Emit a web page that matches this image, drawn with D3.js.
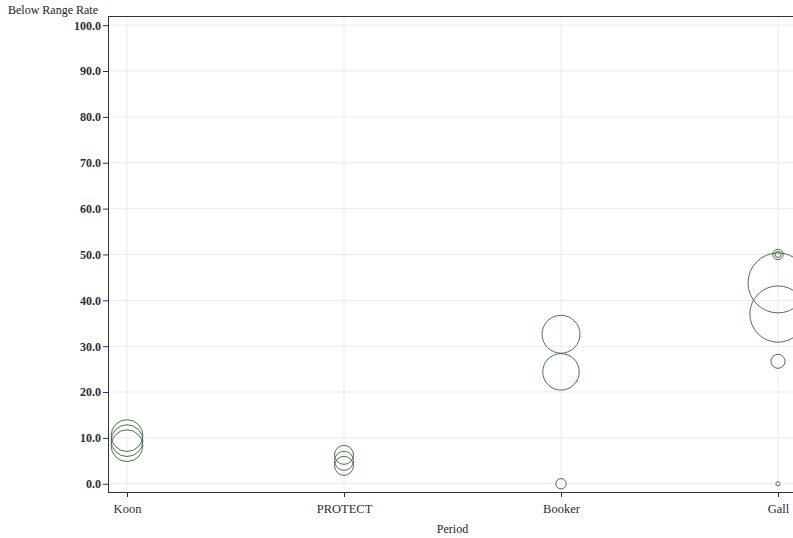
<!DOCTYPE html>
<html>
<head>
<meta charset="utf-8">
<script src="https://cdn.jsdelivr.net/npm/d3@7"></script>
<style>
  html, body { margin: 0; padding: 0; background: #fff; overflow: hidden; }
  svg { display: block; }
  text { font-family: "Liberation Serif", "Times New Roman", serif; }
</style>
</head>
<body>
<svg id="chart" width="793" height="538"></svg>
<script>
// ---- data ----
const categories = ["Koon", "PROTECT", "Booker", "Gall"];
const pointPeriod = ["Koon", "Koon", "Koon",
                     "PROTECT", "PROTECT", "PROTECT",
                     "Booker", "Booker", "Booker",
                     "Gall", "Gall", "Gall", "Gall", "Gall", "Gall"];
const pointRate   = [10.5, 9.4, 8.3,
                     6.3, 5.0, 3.9,
                     32.6, 24.4, 0.0,
                     43.8, 37.0, 50.0, 50.0, 26.7, 0.0];
const pointSize   = [28, 28, 28,
                     10, 10, 10,
                     40, 37, 3,
                     100, 88, 3, 1, 5.5, 0.5];
const yTicks = [0, 10, 20, 30, 40, 50, 60, 70, 80, 90, 100];
const yTitle = "Below Range Rate";
const xTitle = "Period";

// ---- layout ----
const svg = d3.select("#chart");
const pLeft = 108, pRight = 797, pTop = 16, pBottom = 492;

const x = d3.scalePoint().domain(categories).range([127, 778]);
const y = d3.scaleLinear().domain([-1.8, 102]).range([pBottom, pTop]);
const r = d3.scaleSqrt().domain([0, d3.max(pointSize)]).range([0, 30]);

// grid
const g = svg.append("g");
g.selectAll("line.hy").data(yTicks).join("line")
  .attr("x1", pLeft).attr("x2", pRight)
  .attr("y1", d => y(d)).attr("y2", d => y(d))
  .attr("stroke", "#ebebeb").attr("stroke-width", 1);
g.selectAll("line.vx").data(categories).join("line")
  .attr("x1", d => x(d)).attr("x2", d => x(d))
  .attr("y1", pTop).attr("y2", pBottom)
  .attr("stroke", "#ebebeb").attr("stroke-width", 1);

// points
const pts = pointRate.map((v, i) => ({ p: pointPeriod[i], v, s: pointSize[i] }));
svg.append("g").selectAll("circle").data(pts).join("circle")
  .attr("cx", d => x(d.p))
  .attr("cy", d => y(d.v))
  .attr("r", d => Math.max(1.5, r(d.s)))
  .attr("fill", "none")
  .attr("stroke", "#3f5f3f")
  .attr("stroke-opacity", 0.9)
  .attr("stroke-width", 1);

// top border
svg.append("line").attr("x1", pLeft).attr("x2", pRight)
  .attr("y1", pTop + 0.5).attr("y2", pTop + 0.5)
  .attr("stroke", "#333").attr("stroke-width", 1);

// y axis
const yAxis = svg.append("g").attr("transform", `translate(${pLeft},0)`)
  .call(d3.axisLeft(y).tickValues(yTicks).tickFormat(d3.format(".1f")).tickSize(5).tickPadding(2));
yAxis.select(".domain").remove();
yAxis.append("line").attr("x1", 0.5).attr("x2", 0.5).attr("y1", pTop).attr("y2", pBottom)
  .attr("stroke", "#333");
yAxis.selectAll(".tick line").attr("stroke", "#333");
yAxis.selectAll(".tick text").attr("fill", "#2b2b3a")
  .style("font-size", "12px").style("font-family", "'Liberation Serif', serif").style("font-weight", "bold");

// x axis
const xAxis = svg.append("g").attr("transform", `translate(0,${pBottom})`)
  .call(d3.axisBottom(x).tickSize(5).tickPadding(7));
xAxis.select(".domain").remove();
xAxis.append("line").attr("x1", pLeft).attr("x2", pRight).attr("y1", 0.5).attr("y2", 0.5)
  .attr("stroke", "#333");
xAxis.selectAll(".tick line").attr("stroke", "#333");
xAxis.selectAll(".tick text").attr("fill", "#2b2b3a")
  .style("font-size", "12.5px").style("font-family", "'Liberation Serif', serif");

// titles
svg.append("text").attr("x", 8).attr("y", 14)
  .attr("fill", "#222").style("font-size", "12px").text(yTitle);
svg.append("text").attr("x", (pLeft + pRight) / 2).attr("y", 533)
  .attr("text-anchor", "middle")
  .attr("fill", "#222").style("font-size", "12px").text(xTitle);
</script>
</body>
</html>
